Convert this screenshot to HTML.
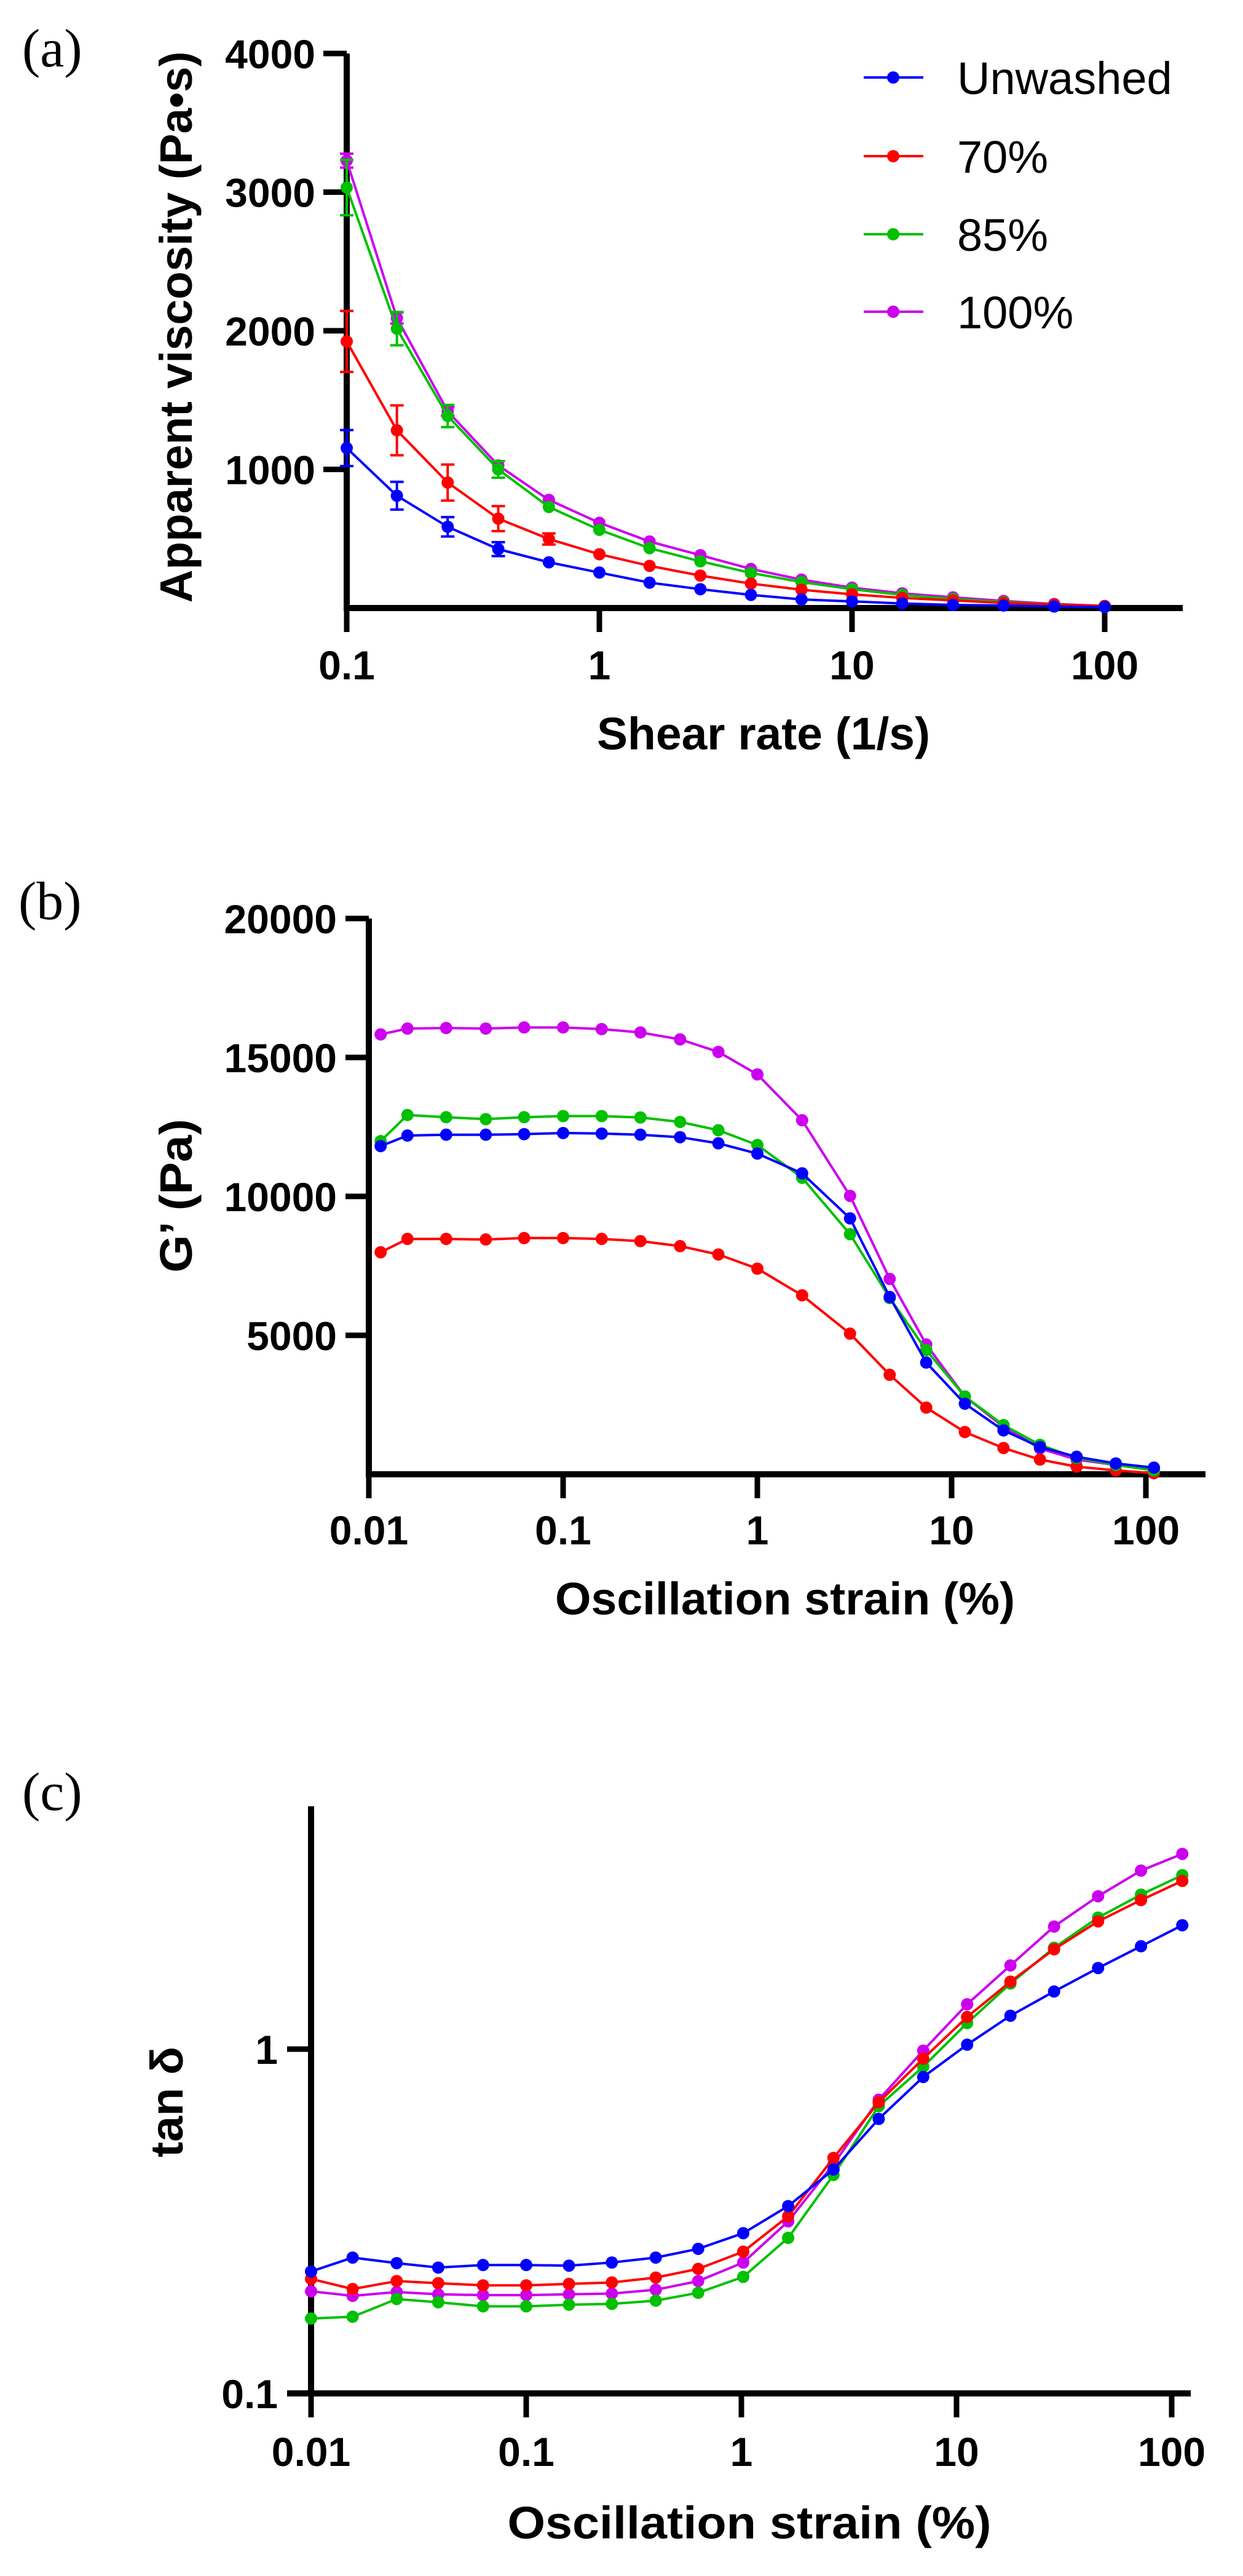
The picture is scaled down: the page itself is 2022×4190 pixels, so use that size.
<!DOCTYPE html>
<html><head><meta charset="utf-8"><style>
html,body{margin:0;padding:0;background:#fff;}
svg{display:block;}
text{font-family:"Liberation Sans",Arial,sans-serif;}
.tick{font-weight:bold;font-size:66px;fill:#000;}
.title{font-weight:bold;font-size:74px;fill:#000;}
.panel{font-family:"Liberation Serif",serif;font-size:88px;fill:#000;}
.leg{font-size:74px;fill:#000;}
</style></head><body>
<svg id="fig" width="2022" height="4190" viewBox="0 0 2022 4190" xmlns="http://www.w3.org/2000/svg">
<g id="chartA"></g>
<g id="chartB"></g>
<g id="chartC"></g>
</svg>
<script>
// ---------- Chart A data ----------
const seriesNames = ["Unwashed","70%","85%","100%"];
const seriesColors = ["#0000ff","#ff0000","#00c000","#cc00ee"];
const aShear = [0.1,0.158,0.251,0.398,0.631,1,1.58,2.51,3.98,6.31,10,15.8,25.1,39.8,63.1,100];
const aUnwashed = [1154,810,586,425,330,256,183,136,95,62,48,33,22,18,11,7];
const a70 = [1923,1282,905,645,498,388,304,234,176,132,99,73,55,37,26,15];
const a85 = [3033,2015,1385,1000,729,564,432,337,253,187,136,95,66,44,26,15];
const a100 = [3227,2092,1418,1029,780,615,480,381,282,205,147,106,77,51,29,15];
const aErrUnwashed = [130,100,70,50,0,0,0,0,0,0,0,0,0,0,0,0];
const aErr70 = [220,180,130,90,40,0,0,0,0,0,0,0,0,0,0,0];
const aErr85 = [200,120,80,60,0,0,0,0,0,0,0,0,0,0,0,0];
const aErr100 = [50,40,30,0,0,0,0,0,0,0,0,0,0,0,0,0];
const aYTicks = [1000,2000,3000,4000];
const aXTicks = [0.1,1,10,100];
const aXTickLabels = ["0.1","1","10","100"];
// ---------- Chart B data ----------
const bStrain = [0.0115,0.0158,0.025,0.04,0.063,0.1,0.158,0.25,0.4,0.63,1,1.7,3,4.8,7.4,11.7,18.5,28.5,44,70,110];
const bUnwashed = [11810,12190,12220,12220,12240,12280,12260,12220,12130,11910,11540,10830,9210,6380,4020,2540,1580,980,630,390,240];
const b70 = [7990,8470,8470,8450,8500,8500,8470,8390,8210,7910,7400,6440,5060,3580,2400,1520,945,530,275,140,40];
const b85 = [11990,12930,12850,12780,12850,12890,12890,12840,12680,12380,11850,10670,8640,6340,4470,2800,1770,1060,590,335,140];
const b100 = [15830,16040,16060,16040,16080,16080,16020,15900,15650,15200,14390,12740,10020,7030,4670,2800,1710,930,530,335,200];
const bYTicks = [5000,10000,15000,20000];
const bXTicks = [0.01,0.1,1,10,100];
const bXTickLabels = ["0.01","0.1","1","10","100"];
// ---------- Chart C data ----------
const cStrain = [0.01,0.0156,0.025,0.039,0.063,0.1,0.158,0.25,0.4,0.63,1.02,1.65,2.68,4.35,7.0,11.2,17.8,28.4,45.5,72,112];
const cUnwashed = [0.226,0.248,0.239,0.232,0.236,0.236,0.235,0.240,0.248,0.263,0.292,0.350,0.447,0.627,0.830,1.03,1.25,1.47,1.72,1.99,2.29];
const c70 = [0.215,0.201,0.212,0.209,0.206,0.206,0.208,0.210,0.217,0.230,0.258,0.327,0.483,0.701,0.938,1.24,1.57,1.95,2.35,2.71,3.08];
const c85 = [0.165,0.167,0.188,0.184,0.179,0.179,0.181,0.182,0.186,0.196,0.218,0.283,0.431,0.683,0.889,1.19,1.55,1.97,2.41,2.81,3.20];
const c100 = [0.198,0.192,0.197,0.194,0.193,0.193,0.194,0.195,0.200,0.212,0.240,0.316,0.463,0.713,0.990,1.35,1.75,2.27,2.78,3.30,3.69];
const cYTicks = [0.1,1];
const cYTickLabels = ["0.1","1"];
const cXTicks = [0.01,0.1,1,10,100];
const cXTickLabels = ["0.01","0.1","1","10","100"];

const NS="http://www.w3.org/2000/svg";
function mk(tag, attrs, parent){const e=document.createElementNS(NS,tag);for(const k in attrs)e.setAttribute(k,attrs[k]);parent.appendChild(e);return e;}
function logScale(d0,p0,perDecade){return v=>p0+(Math.log10(v)-Math.log10(d0))*perDecade;}
function linScale(d0,p0,pxPerUnit){return v=>p0-(v-d0)*pxPerUnit;}

function drawSeries(g,xs,ys,X,Y,color,name,errs){
  const sg=mk('g',{},g);
  
  
  if(errs){
    xs.forEach((x,i)=>{ if(errs[i]>0){
      const px=X(x),y1=Y(ys[i]+errs[i]),y2=Y(ys[i]-errs[i]);
      const eb=mk('path',{d:`M${px},${y1}V${y2}M${px-11},${y1}H${px+11}M${px-11},${y2}H${px+11}`,stroke:color,'stroke-width':4,fill:'none'},sg);
      
      
    }});
  }
  const d=xs.map((x,i)=>(i?'L':'M')+X(x).toFixed(1)+','+Y(ys[i]).toFixed(1)).join('');
  const ln=mk('path',{d:d,stroke:color,'stroke-width':4,fill:'none'},sg);
  
  
  xs.forEach((x,i)=>{
    const c=mk('circle',{cx:X(x),cy:Y(ys[i]),r:10,fill:color},sg);
    
    
  });
}
function text(g,x,y,str,cls,extra){const t=mk('text',Object.assign({x:x,y:y,class:cls},extra||{}),g);t.textContent=str;return t;}

// ===== Chart A =====
(function(){
  const g=document.getElementById('chartA');
  const X=logScale(0.1,564,411), Y=linScale(0,989,0.2255);
  const lbl=text(g,36,108,'(a)','panel');
  
  
  const ax=mk('path',{d:`M564,${Y(4000)}V989H1924`,stroke:'#000','stroke-width':10,fill:'none'},g);
  
  
  aYTicks.forEach(v=>{
    mk('line',{x1:526,x2:564,y1:Y(v),y2:Y(v),stroke:'#000','stroke-width':9},g);
    const t=text(g,513,Y(v)+24,String(v),'tick',{'text-anchor':'end'});
    
    
  });
  aXTicks.forEach((v,i)=>{
    mk('line',{x1:X(v),x2:X(v),y1:989,y2:1028,stroke:'#000','stroke-width':9},g);
    const t=text(g,X(v),1105,aXTickLabels[i],'tick',{'text-anchor':'middle'});
    
    
  });
  const yt=text(g,0,0,'Apparent viscosity (Pa\u2022s)','title',{'text-anchor':'middle',transform:'translate(312,532) rotate(-90)',textLength:897,lengthAdjust:'spacingAndGlyphs'});
  
  
  const xt=text(g,1242,1219,'Shear rate (1/s)','title',{'text-anchor':'middle',textLength:542,lengthAdjust:'spacingAndGlyphs'});
  
  
  const sets=[aUnwashed,a70,a85,a100], errs=[aErrUnwashed,aErr70,aErr85,aErr100];
  [3,2,1,0].forEach(i=>drawSeries(g,aShear,sets[i],X,Y,seriesColors[i],seriesNames[i],errs[i]));
  const legY=[126,254,381,507];
  const lg=mk('g',{},g);
  
  
  seriesNames.forEach((n,i)=>{
    const e=mk('g',{},lg);
    
    
    mk('line',{x1:1405,x2:1502,y1:legY[i],y2:legY[i],stroke:seriesColors[i],'stroke-width':4},e);
    mk('circle',{cx:1453,cy:legY[i],r:10,fill:seriesColors[i]},e);
    const t=text(e,1557,legY[i]+27,n,'leg');
  });
})();

// ===== Chart B =====
(function(){
  const g=document.getElementById('chartB');
  const X=logScale(0.01,600,316), Y=linScale(0,2398,0.0452);
  const lbl=text(g,30,1495,'(b)','panel');
  
  
  const ax=mk('path',{d:`M600,${Y(20000)}V2398H1961`,stroke:'#000','stroke-width':10,fill:'none'},g);
  
  
  bYTicks.forEach(v=>{
    mk('line',{x1:562,x2:600,y1:Y(v),y2:Y(v),stroke:'#000','stroke-width':9},g);
    const t=text(g,548,Y(v)+24,String(v),'tick',{'text-anchor':'end'});
    
    
  });
  bXTicks.forEach((v,i)=>{
    mk('line',{x1:X(v),x2:X(v),y1:2398,y2:2437,stroke:'#000','stroke-width':9},g);
    const t=text(g,X(v),2512,bXTickLabels[i],'tick',{'text-anchor':'middle'});
    
    
  });
  const yt=text(g,0,0,'G\u2019 (Pa)','title',{'text-anchor':'middle',transform:'translate(312,1945) rotate(-90)',textLength:250,lengthAdjust:'spacingAndGlyphs'});
  
  
  const xt=text(g,1277,2626,'Oscillation strain (%)','title',{'text-anchor':'middle',textLength:748,lengthAdjust:'spacingAndGlyphs'});
  
  
  const sets=[bUnwashed,b70,b85,b100];
  [3,1,2,0].forEach(i=>drawSeries(g,bStrain,sets[i],X,Y,seriesColors[i],seriesNames[i],null));
})();

// ===== Chart C =====
(function(){
  const g=document.getElementById('chartC');
  const X=logScale(0.01,506,350), Y=v=>3893-(Math.log10(v)+1)*560;
  const lbl=text(g,36,2944,'(c)','panel');
  
  
  const ax=mk('path',{d:`M506,2938V3893M467,3893H1937`,stroke:'#000','stroke-width':10,fill:'none'},g);
  
  
  cYTicks.forEach((v,i)=>{
    mk('line',{x1:467,x2:506,y1:Y(v),y2:Y(v),stroke:'#000','stroke-width':9},g);
    const t=text(g,452,Y(v)+24,cYTickLabels[i],'tick',{'text-anchor':'end'});
    
    
  });
  cXTicks.forEach((v,i)=>{
    mk('line',{x1:X(v),x2:X(v),y1:3893,y2:3932,stroke:'#000','stroke-width':9},g);
    const t=text(g,X(v),4011,cXTickLabels[i],'tick',{'text-anchor':'middle'});
    
    
  });
  const yt=text(g,0,0,'tan \u03b4','title',{'text-anchor':'middle',transform:'translate(297,3419) rotate(-90)',textLength:180,lengthAdjust:'spacingAndGlyphs'});
  
  
  const xt=text(g,1219,4129,'Oscillation strain (%)','title',{'text-anchor':'middle',textLength:787,lengthAdjust:'spacingAndGlyphs'});
  
  
  const sets=[cUnwashed,c70,c85,c100];
  [3,2,1,0].forEach(i=>drawSeries(g,cStrain,sets[i],X,Y,seriesColors[i],seriesNames[i],null));
})();
</script>
</body></html>
